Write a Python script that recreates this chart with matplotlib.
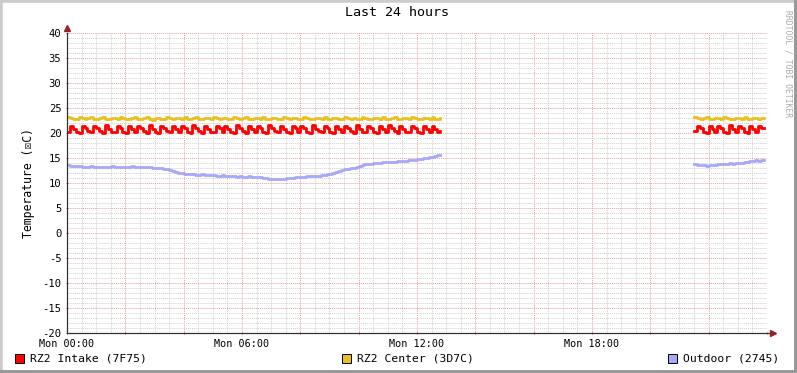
import numpy as np
import matplotlib
matplotlib.use("Agg")
import matplotlib.pyplot as plt
from matplotlib.ticker import MultipleLocator, FuncFormatter
from matplotlib.patches import Rectangle

# ---- data (hours since Mon 00:00, samples every 6 min) ----
t_part1 = np.arange(0, 129) * 0.1          # 00:00 .. 12:48
t_part2 = 21.5 + np.arange(0, 25) * 0.1    # 21:30 .. 23:54

intake_1 = [
    20.3, 21.4, 20.9, 20.3, 20.1, 21.5, 21.0, 20.4, 20.2, 21.4,
    21.1, 20.4, 20.1, 21.6, 20.9, 20.3, 20.2, 21.5, 21.0, 20.3,
    20.1, 21.4, 20.8, 20.2, 21.5, 21.1, 20.4, 20.1, 21.6, 20.9,
    20.3, 20.1, 21.5, 21.0, 20.4, 20.2, 21.4, 20.9, 20.2, 21.5,
    21.0, 20.3, 20.1, 21.6, 21.0, 20.4, 20.1, 21.5, 20.9, 20.3,
    20.2, 21.4, 21.0, 20.3, 21.5, 20.9, 20.2, 20.1, 21.6, 21.0,
    20.4, 20.1, 21.5, 20.8, 20.2, 21.4, 21.0, 20.3, 20.1, 21.6,
    21.1, 20.4, 20.2, 21.5, 20.9, 20.3, 20.1, 21.4, 21.0, 20.2,
    21.5, 21.0, 20.3, 20.1, 21.6, 20.9, 20.4, 20.2, 21.5, 21.0,
    20.3, 20.1, 21.4, 20.8, 20.2, 21.5, 21.1, 20.4, 20.1, 21.6,
    20.9, 20.3, 20.2, 21.5, 21.0, 20.3, 20.1, 21.4, 20.9, 20.2,
    21.6, 21.0, 20.4, 20.1, 21.5, 20.9, 20.3, 20.2, 21.4, 21.1,
    20.3, 20.1, 21.5, 20.9, 20.2, 21.4, 20.8, 20.3, 20.5,
]
center_1 = [
    23.3, 23.0, 22.8, 22.9, 23.2, 23.0, 22.8, 23.1, 23.2, 22.9,
    22.8, 23.0, 23.2, 22.9, 22.8, 23.1, 23.0, 22.8, 23.2, 23.0,
    22.9, 22.8, 23.1, 23.2, 22.9, 22.8, 23.0, 23.2, 22.9, 22.7,
    23.0, 23.1, 22.9, 22.8, 23.2, 23.0, 22.8, 23.1, 23.0, 22.8,
    23.2, 22.9, 22.8, 23.0, 23.2, 22.9, 22.8, 23.1, 23.0, 22.9,
    23.2, 23.0, 22.8, 23.0, 23.1, 22.8, 22.9, 23.2, 23.0, 22.8,
    23.0, 23.2, 22.9, 22.8, 23.1, 23.0, 22.8, 23.2, 22.9, 22.8,
    23.0, 23.1, 22.8, 22.9, 23.2, 23.0, 22.8, 23.0, 23.1, 22.9,
    22.8, 23.2, 23.0, 22.8, 22.9, 23.1, 23.0, 22.8, 23.2, 22.9,
    22.8, 23.0, 23.1, 22.9, 22.8, 23.2, 23.0, 22.8, 23.1, 22.9,
    22.8, 23.2, 23.0, 22.9, 22.8, 23.1, 23.0, 22.8, 23.2, 22.9,
    22.8, 23.0, 23.2, 22.9, 22.8, 23.1, 23.0, 22.8, 23.2, 23.0,
    22.9, 22.8, 23.1, 23.0, 22.8, 23.2, 22.9, 22.8, 23.0,
]
outdoor_1 = [
    13.7, 13.5, 13.4, 13.4, 13.4, 13.3, 13.3, 13.3, 13.4, 13.3,
    13.3, 13.2, 13.3, 13.3, 13.3, 13.4, 13.3, 13.3, 13.2, 13.3,
    13.3, 13.3, 13.4, 13.3, 13.2, 13.2, 13.3, 13.2, 13.2, 13.1,
    13.1, 13.0, 13.0, 12.9, 12.8, 12.7, 12.5, 12.3, 12.1, 12.0,
    11.9, 11.9, 11.8, 11.8, 11.7, 11.7, 11.8, 11.7, 11.6, 11.6,
    11.6, 11.5, 11.5, 11.6, 11.5, 11.4, 11.4, 11.4, 11.3, 11.4,
    11.3, 11.3, 11.4, 11.3, 11.3, 11.2, 11.2, 11.1, 11.0, 10.9,
    10.8, 10.8, 10.8, 10.9, 10.9, 11.0, 11.0, 11.1, 11.2, 11.2,
    11.3, 11.3, 11.4, 11.4, 11.4, 11.5, 11.5, 11.6, 11.7, 11.8,
    11.9, 12.1, 12.3, 12.5, 12.7, 12.8, 12.9, 13.0, 13.1, 13.2,
    13.4, 13.6, 13.8, 13.9, 13.9, 14.0, 14.0, 14.1, 14.2, 14.2,
    14.2, 14.3, 14.3, 14.4, 14.4, 14.5, 14.5, 14.6, 14.6, 14.7,
    14.8, 14.9, 15.0, 15.1, 15.2, 15.3, 15.4, 15.6, 15.7,
]
intake_2 = [20.5, 21.5, 21.0, 20.3, 20.1, 21.5, 20.9, 20.2, 21.4, 21.0,
            20.3, 20.1, 21.6, 20.9, 20.3, 21.5, 21.0, 20.2, 20.1, 21.4,
            20.9, 20.3, 21.5, 21.0, 21.0]
center_2 = [23.3, 23.1, 22.9, 23.0, 23.2, 22.9, 22.8, 23.1, 23.0, 22.8,
            23.2, 23.0, 22.9, 22.8, 23.1, 23.0, 22.8, 23.2, 22.9, 22.8,
            23.0, 23.1, 22.8, 23.0, 23.1]
outdoor_2 = [13.8, 13.7, 13.7, 13.6, 13.5, 13.6, 13.7, 13.7, 13.8, 13.8,
             13.9, 13.9, 14.0, 13.9, 14.0, 14.1, 14.1, 14.2, 14.3, 14.4,
             14.5, 14.7, 14.5, 14.6, 14.6]

series_names = ["RZ2 Intake (7F75)", "RZ2 Center (3D7C)", "Outdoor (2745)"]
series_colors = ["#FF0000", "#E8C020", "#A8A8F8"]
x_labels = {0: "Mon 00:00", 6: "Mon 06:00", 12: "Mon 12:00", 18: "Mon 18:00"}

mono = ["DejaVu Sans Mono", "DejaVu Sans"]
plt.rcParams["font.family"] = mono
plt.rcParams["axes.unicode_minus"] = False

W, H = 797, 373
fig = plt.figure(figsize=(W / 100, H / 100), dpi=100)
fig.patch.set_facecolor("white")

# rrdtool style 3d frame
fig.patches.append(Rectangle((0, 0), 1, 1, transform=fig.transFigure, fill=False,
                             ec="#CCCCCC", lw=4, zorder=0))
fig.patches.append(Rectangle((0, 0), 1, 3 / H, transform=fig.transFigure,
                             fc="#999999", ec="none", zorder=1))
fig.patches.append(Rectangle((1 - 3 / W, 0), 3 / W, 1, transform=fig.transFigure,
                             fc="#999999", ec="none", zorder=1))

ax = fig.add_axes([67 / W, 1 - 333 / H, 700 / W, 300 / H])
ax.set_xlim(0, 24)
ax.set_ylim(-20, 40)

for t, y, c in [(t_part1, intake_1, series_colors[0]), (t_part1, center_1, series_colors[1]),
                (t_part1, outdoor_1, series_colors[2])]:
    ax.plot(t, y, color=c, lw=2.0, drawstyle="steps-post", zorder=5)
for t, y, c in [(t_part2, intake_2, series_colors[0]), (t_part2, center_2, series_colors[1]),
                (t_part2, outdoor_2, series_colors[2])]:
    ax.plot(t, y, color=c, lw=2.0, drawstyle="steps-post", zorder=5)

# grid
ax.xaxis.set_major_locator(MultipleLocator(2))
ax.xaxis.set_minor_locator(MultipleLocator(0.5))
ax.yaxis.set_major_locator(MultipleLocator(5))
ax.yaxis.set_minor_locator(MultipleLocator(1))
ax.grid(which="minor", color="#D0D0D0", ls=(0, (1, 1)), lw=0.7)
ax.grid(which="major", color="#E8A0A0", ls=(0, (1, 1)), lw=0.7)
ax.set_axisbelow(True)

ax.xaxis.set_major_formatter(FuncFormatter(lambda v, p: x_labels.get(int(round(v)), "") if abs(v - round(v)) < 1e-6 else ""))
ax.tick_params(axis="both", which="both", length=2, width=0.6, color="#AA3333", direction="inout")
ax.tick_params(axis="x", which="major", labelsize=7.3, pad=3)
ax.tick_params(axis="y", which="major", labelsize=7.6, pad=3)
ax.tick_params(which="minor", length=0)

for s in ax.spines.values():
    s.set_visible(False)

# axes with arrows
ax.plot([0, 0], [0, 1.0], transform=ax.transAxes, color="#333333", lw=0.9, clip_on=False, zorder=6)
ax.plot([0, 1.0086], [0, 0], transform=ax.transAxes, color="#333333", lw=0.9, clip_on=False, zorder=6)
ax.plot([0], [1.018], transform=ax.transAxes, marker="^", ms=4, color="#992222", clip_on=False, zorder=7)
ax.plot([1.0086], [0], transform=ax.transAxes, marker=">", ms=4, color="#992222", clip_on=False, zorder=7)

ax.set_ylabel("Temperature (\u2612C)", fontsize=8.3, labelpad=5, family=mono)

fig.text(397 / W, 1 - 13 / H, "Last 24 hours", ha="center", va="center", fontsize=9.6)
fig.text(788 / W, 1 - 64 / H, "RRDTOOL / TOBI OETIKER", rotation=270, ha="center", va="center",
         fontsize=5.8, color="#AAAAAA")

# legend
legend_x = [15, 342, 668]
for lx, name, col in zip(legend_x, series_names, series_colors):
    fig.patches.append(Rectangle((lx / W, 1 - 363 / H), 9 / W, 9 / H, transform=fig.transFigure,
                                 fc=col, ec="black", lw=0.7, zorder=3))
    fig.text((lx + 15) / W, 1 - 358.5 / H, name, ha="left", va="center", fontsize=8.2)

fig.savefig("out.png", dpi=100)
